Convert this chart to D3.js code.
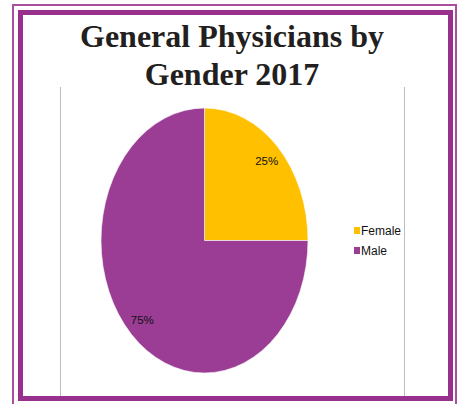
<!DOCTYPE html>
<html><head><meta charset="utf-8">
<script src="https://cdn.jsdelivr.net/npm/d3@7"></script>
<style>html,body{margin:0;padding:0;background:#fff;}svg{display:block;}</style>
</head><body>
<svg id="c" width="461" height="404"></svg>
<script>
const titleLines = ["General Physicians by", "Gender 2017"];
const categories = ["Female", "Male"];
const values = [25, 75];
const labels = ["25%", "75%"];
const colors = ["#FFC000", "#9B3D94"];

const svg = d3.select("#c");
// frames
svg.append("rect").attr("x", 13).attr("y", 5).attr("width", 443).attr("height", 410)
  .attr("fill", "none").attr("stroke", "#a8509f").attr("stroke-width", 2);
svg.append("rect").attr("x", 20.5).attr("y", 12.5).attr("width", 430).attr("height", 386)
  .attr("fill", "#fff").attr("stroke", "#98308e").attr("stroke-width", 5);

// chart area side borders
svg.append("line").attr("x1", 60.5).attr("x2", 60.5).attr("y1", 87).attr("y2", 396)
  .attr("stroke", "#bdbdbd").attr("stroke-width", 1);
svg.append("line").attr("x1", 404.5).attr("x2", 404.5).attr("y1", 87).attr("y2", 396)
  .attr("stroke", "#bdbdbd").attr("stroke-width", 1);

// title
svg.append("text").attr("text-anchor", "middle").attr("font-family", "Liberation Serif")
  .attr("font-weight", "bold").attr("font-size", 32).attr("fill", "#231f20")
  .selectAll("tspan").data(titleLines).join("tspan")
  .attr("x", 232).attr("y", (d, i) => 47 + i * 38).text(d => d);

// pie (elliptical)
const cx = 204.5, cy = 240.5, rx = 103.5, ry = 132.5;
const pie = d3.pie().sort(null).value(d => d)(values);
const arc = d3.arc().innerRadius(0).outerRadius(ry);
const g = svg.append("g").attr("transform", `translate(${cx},${cy}) scale(${rx / ry},1)`);
g.selectAll("path").data(pie).join("path")
  .attr("d", arc).attr("fill", (d, i) => colors[i])
  .attr("stroke", "#ffffff").attr("stroke-width", 0.6).attr("vector-effect", "non-scaling-stroke");

const labelArc = d3.arc().innerRadius(ry * 0.85).outerRadius(ry * 0.85);
svg.append("g").selectAll("text").data(pie).join("text")
  .attr("x", d => cx + labelArc.centroid(d)[0] * rx / ry)
  .attr("y", d => cy + labelArc.centroid(d)[1] + 4)
  .attr("text-anchor", "middle").attr("font-family", "Liberation Sans")
  .attr("font-size", 11.5).attr("fill", "#111").text((d, i) => labels[i]);

// legend
const leg = svg.append("g").selectAll("g").data(categories).join("g")
  .attr("transform", (d, i) => `translate(354,${227 + i * 20})`);
leg.append("rect").attr("width", 6).attr("height", 7).attr("fill", (d, i) => colors[i]);
leg.append("text").attr("x", 7).attr("y", 8).attr("font-family", "Liberation Sans")
  .attr("font-size", 12).attr("fill", "#111").text(d => d);
</script>
</body></html>
